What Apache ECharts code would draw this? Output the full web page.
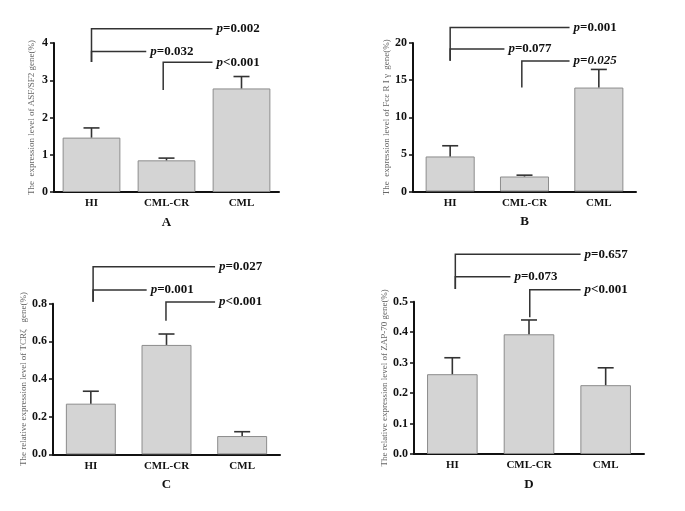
<!DOCTYPE html>
<html><head><meta charset="utf-8">
<script src="https://cdn.jsdelivr.net/npm/echarts@6/dist/echarts.min.js"></script>
<style>html,body{margin:0;padding:0;background:#fff}#c{width:685px;height:511px}</style>
</head><body><div id="c"></div>
<script>
// ---------- data ----------
const categories = ['HI', 'CML-CR', 'CML'];
const panelLetters = ['A', 'B', 'C', 'D'];
const yNames = [
  'The  expression level of ASF/SF2 gene(%)',
  'The  expression level of Fc\u03b5 R I \u03b3  gene(%)',
  'The relative expression level of TCR\u03b6   gene(%)',
  'The relative expression level of ZAP-70 gene(%)'
];
// bar means
const meanA = [1.46, 0.85, 2.78];
const meanB = [4.72, 2.02, 14.0];
const meanC = [0.269, 0.581, 0.097];
const meanD = [0.262, 0.393, 0.226];
// mean + error (top of error bar)
const errA = [1.72, 0.91, 3.10];
const errB = [6.16, 2.20, 16.44];
const errC = [0.335, 0.639, 0.120];
const errD = [0.316, 0.440, 0.283];
// y axis ranges / ticks
const yMax = [4, 20, 0.8, 0.5];
const yStep = [1, 5, 0.2, 0.1];
const yDecimals = [0, 0, 1, 1];
// significance brackets: [x1,y1,x2,y2,x3,y3] (x in category index units)
const bracketsA = [[0, 3.49, 0, 4.385, 1.613, 4.385], [0, 3.49, 0, 3.774, 0.73, 3.774], [0.956, 2.74, 0.956, 3.48, 1.613, 3.48]];
const bracketsB = [[0, 17.6, 0, 22.1, 1.606, 22.1], [0, 17.6, 0, 19.2, 0.73, 19.2], [0.964, 14.0, 0.964, 17.57, 1.606, 17.57]];
const bracketsC = [[0.03, 0.8106, 0.03, 0.9966, 1.642, 0.9966], [0.03, 0.8106, 0.03, 0.8728, 0.738, 0.8728], [0.993, 0.7097, 0.993, 0.809, 1.642, 0.809]];
const bracketsD = [[0.039, 0.5417, 0.039, 0.6556, 1.673, 0.6556], [0.039, 0.5417, 0.039, 0.582, 0.758, 0.582], [1.01, 0.4488, 1.01, 0.539, 1.673, 0.539]];
const pLabelsA = ['=0.002', '=0.032', '<0.001'];
const pLabelsB = ['=0.001', '=0.077', '=0.025'];
const pLabelsC = ['=0.027', '=0.001', '<0.001'];
const pLabelsD = ['=0.657', '=0.073', '<0.001'];
const pItalicAll = [[false, false, false], [false, false, true], [false, false, false], [false, false, false]];

// ---------- layout ----------
const FONT = '"Liberation Serif", "Times New Roman", serif';
const grids = [
  { left: 54, top: 43, width: 225, height: 149 },
  { left: 413, top: 43, width: 223, height: 148.5 },
  { left: 53, top: 303.7, width: 227, height: 150.6 },
  { left: 414, top: 301.7, width: 230, height: 152.3 }
];
const barGaps = ['23%', '34%', '34%', '34%'];
const nameGaps = [18, 21, 24, 25];
const means = [meanA, meanB, meanC, meanD];
const errs = [errA, errB, errC, errD];
const brackets = [bracketsA, bracketsB, bracketsC, bracketsD];
const pLabels = [pLabelsA, pLabelsB, pLabelsC, pLabelsD];

const xAxes = [], yAxes = [], series = [];
for (let k = 0; k < 4; k++) {
  xAxes.push({
    type: 'category', gridIndex: k, data: categories,
    name: panelLetters[k], nameLocation: 'middle', nameGap: 24,
    nameTextStyle: { fontFamily: FONT, fontWeight: 'bold', fontSize: 13, color: '#111' },
    axisLine: { onZero: false, lineStyle: { color: '#111', width: 2 } },
    axisTick: { alignWithLabel: true, length: 4, lineStyle: { color: '#111', width: 1.5 } },
    axisLabel: { fontFamily: FONT, fontWeight: 'bold', fontSize: 11, color: '#111', margin: 6 }
  });
  yAxes.push({
    type: 'value', gridIndex: k, min: 0, max: yMax[k], interval: yStep[k],
    name: yNames[k], nameLocation: 'middle', nameGap: nameGaps[k], nameRotate: 90,
    nameTextStyle: { fontFamily: FONT, fontSize: 9, color: '#666' },
    axisLine: { show: true, onZero: false, lineStyle: { color: '#111', width: 2 } },
    axisTick: { show: true, length: 4, lineStyle: { color: '#111', width: 1.5 } },
    splitLine: { show: false },
    axisLabel: { fontFamily: FONT, fontWeight: 'bold', fontSize: 12, color: '#111', margin: 6,
      formatter: v => v.toFixed(yDecimals[k]) }
  });
}
for (let k = 0; k < 4; k++) {
  xAxes.push({ type: 'value', gridIndex: k, min: -0.5, max: 2.5, show: false });
}

function errRender(params, api) {
  const i = api.value(0), v = api.value(1), e = api.value(2);
  const p0 = api.coord([i, v]), p1 = api.coord([i, e]);
  const half = 8;
  const st = { stroke: '#333', lineWidth: 1.6 };
  return { type: 'group', children: [
    { type: 'line', shape: { x1: p0[0], y1: p0[1], x2: p1[0], y2: p1[1] }, style: st },
    { type: 'line', shape: { x1: p1[0] - half, y1: p1[1], x2: p1[0] + half, y2: p1[1] }, style: st }
  ] };
}

for (let k = 0; k < 4; k++) {
  series.push({
    type: 'bar', xAxisIndex: k, yAxisIndex: k, data: means[k], barCategoryGap: barGaps[k],
    itemStyle: { color: '#d4d4d4', borderColor: '#8c8c8c', borderWidth: 1 }, silent: true
  });
  series.push({
    type: 'custom', xAxisIndex: k, yAxisIndex: k, z: 5,
    data: categories.map((c, i) => [i, means[k][i], errs[k][i]]),
    renderItem: errRender, silent: true
  });
  series.push({
    type: 'custom', xAxisIndex: 4 + k, yAxisIndex: k, z: 6, clip: false,
    dimensions: ['x1', 'y1', 'x2', 'y2', 'x3', 'y3'],
    encode: { x: [0, 2, 4], y: [1, 3, 5] },
    data: brackets[k],
    renderItem: (params, api) => {
      const a = api.coord([api.value(0), api.value(1)]);
      const b = api.coord([api.value(2), api.value(3)]);
      const c = api.coord([api.value(4), api.value(5)]);
      const lab = pLabels[k][params.dataIndex];
      const allIt = pItalicAll[k][params.dataIndex];
      return { type: 'group', children: [
        { type: 'polyline', shape: { points: [a, b, c] }, style: { stroke: '#333', lineWidth: 1.5, fill: null } },
        { type: 'text', x: c[0] + 4, y: c[1],
          style: { text: '{i|p}{' + (allIt ? 'i' : 'b') + '|' + lab + '}',
            verticalAlign: 'middle', align: 'left',
            rich: {
              i: { fontFamily: FONT, fontWeight: 'bold', fontStyle: 'italic', fontSize: 13, fill: '#111' },
              b: { fontFamily: FONT, fontWeight: 'bold', fontSize: 13, fill: '#111' }
            } } }
      ] };
    },
    silent: true
  });
}

const chart = echarts.init(document.getElementById('c'), null, { renderer: 'canvas' });
chart.setOption({
  animation: false,
  backgroundColor: '#fff',
  grid: grids,
  xAxis: xAxes,
  yAxis: yAxes,
  series: series
});
</script></body></html>
